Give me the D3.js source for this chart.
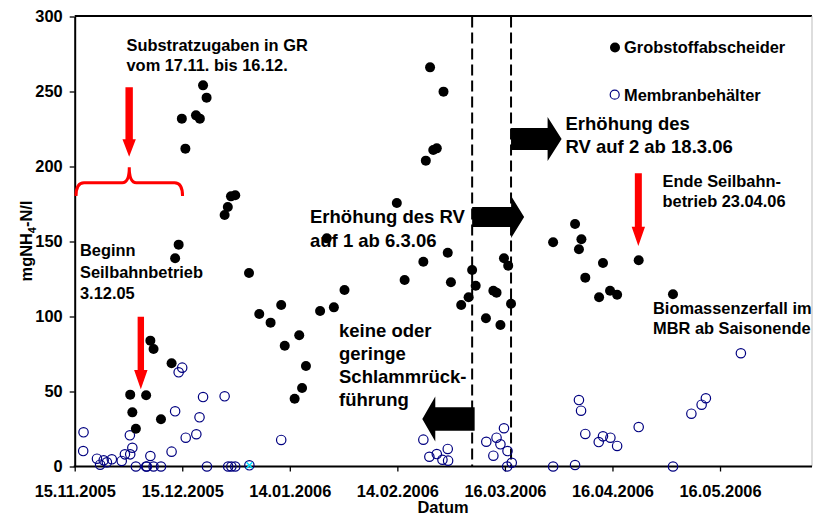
<!DOCTYPE html>
<html>
<head>
<meta charset="utf-8">
<script src="https://cdn.jsdelivr.net/npm/d3@7"></script>
<style>
  body { margin: 0; background: #fff; }
  svg { display: block; font-family: "Liberation Sans", Arial, sans-serif; font-weight: bold; }
</style>
</head>
<body>
<svg id="chart" width="813" height="518"></svg>
<script>
// Tage seit 15.11.2005
var startDate = new Date(2005, 10, 15);
var tickLabels = ["15.11.2005", "15.12.2005", "14.01.2006", "14.02.2006", "16.03.2006", "16.04.2006", "16.05.2006"];
var tickStep = 365 / 12;
var yTicks = [0, 50, 100, 150, 200, 250, 300];

var grobDays = [15.7, 16.3, 17.3, 20.2, 21.4, 22.3, 24.4, 27.4, 28.4, 29.4, 30.3, 31.3, 34.3, 35.4, 36.3, 37.3,
  42.4, 43.3, 44.2, 45.4, 49.3, 52.2, 55.4, 58.4, 59.4, 63.5, 64.3, 62.2, 65.4, 69.4, 71.3, 73.3, 76.3,
  91.1, 93.3, 98.6, 99.3, 100.5, 101.4, 102.4, 104.3, 105.5, 106.4, 109.3, 111.4, 112.4, 113.4, 116.3,
  118.4, 119.3, 120.4, 121.4, 122.6, 123.4, 135.3, 141.5, 143.3, 142.6, 144.4, 149.4, 148.3, 151.4, 153.4,
  159.5, 169.2];
var grobVals = [47.9, 36.1, 25.2, 47.5, 83.9, 78.3, 31.5, 68.8, 138.8, 147.9, 231.9, 211.9, 234.1, 231.9, 254.1, 245.9,
  167.7, 173.0, 180.1, 180.8, 129.0, 101.7, 95.9, 107.7, 80.5, 87.5, 52.3, 45.2, 67.0, 103.7, 152.1, 106.1, 117.7,
  175.7, 124.3, 136.5, 203.9, 266.1, 211.0, 212.1, 249.9, 142.5, 122.8, 107.7, 112.8, 131.0, 120.5, 98.8,
  117.2, 115.9, 94.3, 138.8, 133.9, 108.5, 149.5, 161.7, 151.5, 144.8, 125.9, 135.7, 112.8, 117.2, 114.5,
  137.5, 114.8];

var membDays = [2.5, 2.4, 6.3, 7.2, 8.2, 9.1, 10.5, 13.3, 14.2, 15.6, 15.7, 16.3, 17.3, 20.2, 20.4, 21.4, 22.3, 24.4,
  27.4, 28.4, 29.4, 30.4, 31.4, 34.4, 35.3, 36.3, 37.4, 42.4, 43.4, 44.3, 45.4, 49.4, 58.4,
  98.6, 100.3, 102.4, 104.0, 105.5, 105.6, 116.4, 118.4, 119.3, 120.4, 121.4, 122.4, 122.3, 123.6,
  135.3, 141.5, 142.6, 143.2, 144.4, 148.2, 149.4, 151.5, 153.4, 159.5, 169.2, 174.4, 177.3, 178.5, 188.4];
var membVals = [22.8, 10.3, 5.2, 1.2, 4.1, 2.8, 4.8, 3.7, 8.1, 20.8, 8.1, 12.5, 0, 0, 0, 7.0, 0, 0,
  9.9, 36.8, 62.8, 65.9, 19.2, 21.5, 32.8, 46.3, 0, 46.8, 0, 0, 0, 0.8, 17.7,
  17.9, 6.5, 8.3, 4.5, 11.7, 3.9, 16.5, 7.2, 19.2, 14.8, 25.5, 10.3, 0, 2.5,
  0, 1.0, 44.3, 37.2, 21.7, 16.3, 20.1, 19.2, 13.7, 26.3, 0, 35.2, 41.2, 45.5, 75.5];

var otherDays = [49.4];
var otherVals = [0.8];

// RV-Umstellungen (gestrichelte Linien)
var rvDays = [112.4, 123.4];

var svg = d3.select("#chart");
var pLeft = 74.7, pRight = 812, pTop = 16.5, pBottom = 466.5;
var fs = "16.4px", fsBig = "18.5px";

var x = d3.scaleLinear().domain([0, (pRight - pLeft) / 3.536]).range([pLeft, pRight]);
var y = d3.scaleLinear().domain([0, 300]).range([pBottom, pTop]);

// Rahmen oben / rechts
svg.append("line").attr("x1", pLeft).attr("x2", pRight).attr("y1", 16).attr("y2", 16)
  .attr("stroke", "#000").attr("stroke-width", 2);
svg.append("line").attr("x1", pRight).attr("x2", pRight).attr("y1", 16).attr("y2", pBottom)
  .attr("stroke", "#bbb").attr("stroke-width", 1);

// Achsen
var xAxis = d3.axisBottom(x)
  .tickValues(tickLabels.map((t, i) => i * tickStep))
  .tickFormat((d, i) => tickLabels[i])
  .tickSize(5).tickSizeOuter(0);
var gx = svg.append("g").attr("transform", `translate(0,${pBottom})`).call(xAxis);
var yAxis = d3.axisLeft(y).tickValues(yTicks).tickSize(5).tickSizeOuter(0);
var gy = svg.append("g").attr("transform", `translate(${pLeft},0)`).call(yAxis);

[gx, gy].forEach(g => {
  g.select(".domain").attr("stroke-width", 2).attr("stroke", "#000");
  g.selectAll(".tick line").attr("stroke", "#000").attr("stroke-width", 1.3);
  g.selectAll(".tick text").attr("fill", "#000").style("font-size", fs).style("font-weight", "bold")
    .style("font-family", "'Liberation Sans', Arial, sans-serif");
});
gx.selectAll(".tick text").attr("dy", "0").attr("y", 30.5);
gy.selectAll(".tick text").attr("x", -12);
gx.select(".domain").attr("d", `M${pLeft - 1},0H${pRight}`);

// Achsentitel
svg.append("text").attr("x", 443).attr("y", 513)
  .attr("text-anchor", "middle").style("font-size", fs).text("Datum");
var yl = svg.append("text").attr("transform", "translate(32,241) rotate(-90)")
  .attr("text-anchor", "middle").style("font-size", fs);
yl.append("tspan").text("mgNH");
yl.append("tspan").attr("dy", 4).style("font-size", "11px").text("4");
yl.append("tspan").attr("dy", -4).text("-N/l");

// gestrichelte Linien
svg.selectAll("line.rv").data(rvDays).join("line").attr("class", "rv")
  .attr("x1", d => x(d)).attr("x2", d => x(d)).attr("y1", pTop).attr("y2", pBottom)
  .attr("stroke", "#000").attr("stroke-width", 2).attr("stroke-dasharray", "11,5");

// Pfeile
function hArrow(x0, x1, yc, sh, hh, hl) {
  var dir = x1 > x0 ? 1 : -1;
  var xb = x1 - dir * hl;
  return `M${x0},${yc - sh}L${xb},${yc - sh}L${xb},${yc - hh}L${x1},${yc}L${xb},${yc + hh}L${xb},${yc + sh}L${x0},${yc + sh}Z`;
}
function vArrow(xc, y0, y1, sw, hw, hl) {
  var yb = y1 - hl;
  return `M${xc - sw},${y0}L${xc + sw},${y0}L${xc + sw},${yb}L${xc + hw},${yb}L${xc},${y1}L${xc - hw},${yb}L${xc - sw},${yb}Z`;
}
var blackArrows = [
  [x(rvDays[0]), x(127.1), y(166.3), 10, 21, 13],
  [x(rvDays[1]), x(137.7), y(218.3), 11, 22, 14],
  [x(rvDays[0]) + 2.5, x(98.3), y(31.7), 11.7, 22.5, 13]
];
svg.selectAll("path.barrow").data(blackArrows).join("path").attr("class", "barrow")
  .attr("d", d => hArrow(...d)).attr("fill", "#000");

var redArrows = [
  [x(15.4), y(252.8), y(206.5), 3.7, 6.7, 17.5],
  [x(18.7), y(99.9), y(51.5), 3.2, 6.7, 19.3],
  [x(159.4), y(195.5), y(147), 3.5, 6.7, 19.3]
];
svg.selectAll("path.rarrow").data(redArrows).join("path").attr("class", "rarrow")
  .attr("d", d => vArrow(...d)).attr("fill", "#ff0000");

// geschweifte Klammer
var bl = x(0.37), br = x(30.5), bm = (bl + br) / 2;
var yb = y(180.3), yh = y(189.2), yt = y(199.5);
svg.append("path")
  .attr("d", `M${bl},${yb}Q${bl},${yh} ${bl + 8},${yh}L${bm - 7},${yh}Q${bm},${yh} ${bm},${yt}` +
             `Q${bm},${yh} ${bm + 7},${yh}L${br - 8},${yh}Q${br},${yh} ${br},${yb}`)
  .attr("fill", "none").attr("stroke", "#ff0000").attr("stroke-width", 3);

// Punkte
var membPts = membDays.map((d, i) => [d, membVals[i]]);
var grobPts = grobDays.map((d, i) => [d, grobVals[i]]);

svg.append("g").selectAll("circle").data(membPts).join("circle")
  .attr("cx", d => x(d[0])).attr("cy", d => y(d[1])).attr("r", 4.7)
  .attr("fill", "none").attr("stroke", "#000080").attr("stroke-width", 1.2);

svg.append("g").selectAll("path").data(otherDays.map((d, i) => [d, otherVals[i]])).join("path")
  .attr("d", d => { var cx = x(d[0]), cy = y(d[1]), s = 3; return `M${cx - s},${cy - s}L${cx + s},${cy + s}M${cx - s},${cy + s}L${cx + s},${cy - s}`; })
  .attr("stroke", "#00e0ff").attr("stroke-width", 1.5);

svg.append("g").selectAll("circle").data(grobPts).join("circle")
  .attr("cx", d => x(d[0])).attr("cy", d => y(d[1])).attr("r", 5)
  .attr("fill", "#000");

// Legende
svg.append("circle").attr("cx", 615).attr("cy", 47.5).attr("r", 5).attr("fill", "#000");
svg.append("text").attr("x", 624).attr("y", 53).style("font-size", fs).text("Grobstoffabscheider");
svg.append("circle").attr("cx", 614.7).attr("cy", 94.7).attr("r", 4.5)
  .attr("fill", "none").attr("stroke", "#000080").attr("stroke-width", 1.2);
svg.append("text").attr("x", 624).attr("y", 100.5).style("font-size", fs).text("Membranbehälter");

// Anmerkungen
var notes = [
  { x: 126.5, y: 50.5, size: fs, lh: 20, lines: ["Substratzugaben in GR", "vom 17.11. bis 16.12."] },
  { x: 80, y: 256, size: fs, lh: 21.5, lines: ["Beginn", "Seilbahnbetrieb", "3.12.05"] },
  { x: 310, y: 223, size: fsBig, lh: 23.5, lines: ["Erhöhung des RV", "auf 1 ab 6.3.06"] },
  { x: 565.5, y: 130, size: fsBig, lh: 23.3, lines: ["Erhöhung des", "RV auf 2 ab 18.3.06"] },
  { x: 662.5, y: 186.7, size: fs, lh: 20.6, lines: ["Ende Seilbahn-", "betrieb 23.04.06"] },
  { x: 653, y: 314, size: fs, lh: 20.3, lines: ["Biomassenzerfall im", "MBR ab Saisonende"] },
  { x: 339, y: 337.3, size: fsBig, lh: 23, lines: ["keine oder", "geringe", "Schlammrück-", "führung"] }
];
notes.forEach(n => {
  var t = svg.append("text").attr("x", n.x).attr("y", n.y).style("font-size", n.size);
  n.lines.forEach((l, i) => t.append("tspan").attr("x", n.x).attr("dy", i ? n.lh : 0).text(l));
});
</script>
</body>
</html>
